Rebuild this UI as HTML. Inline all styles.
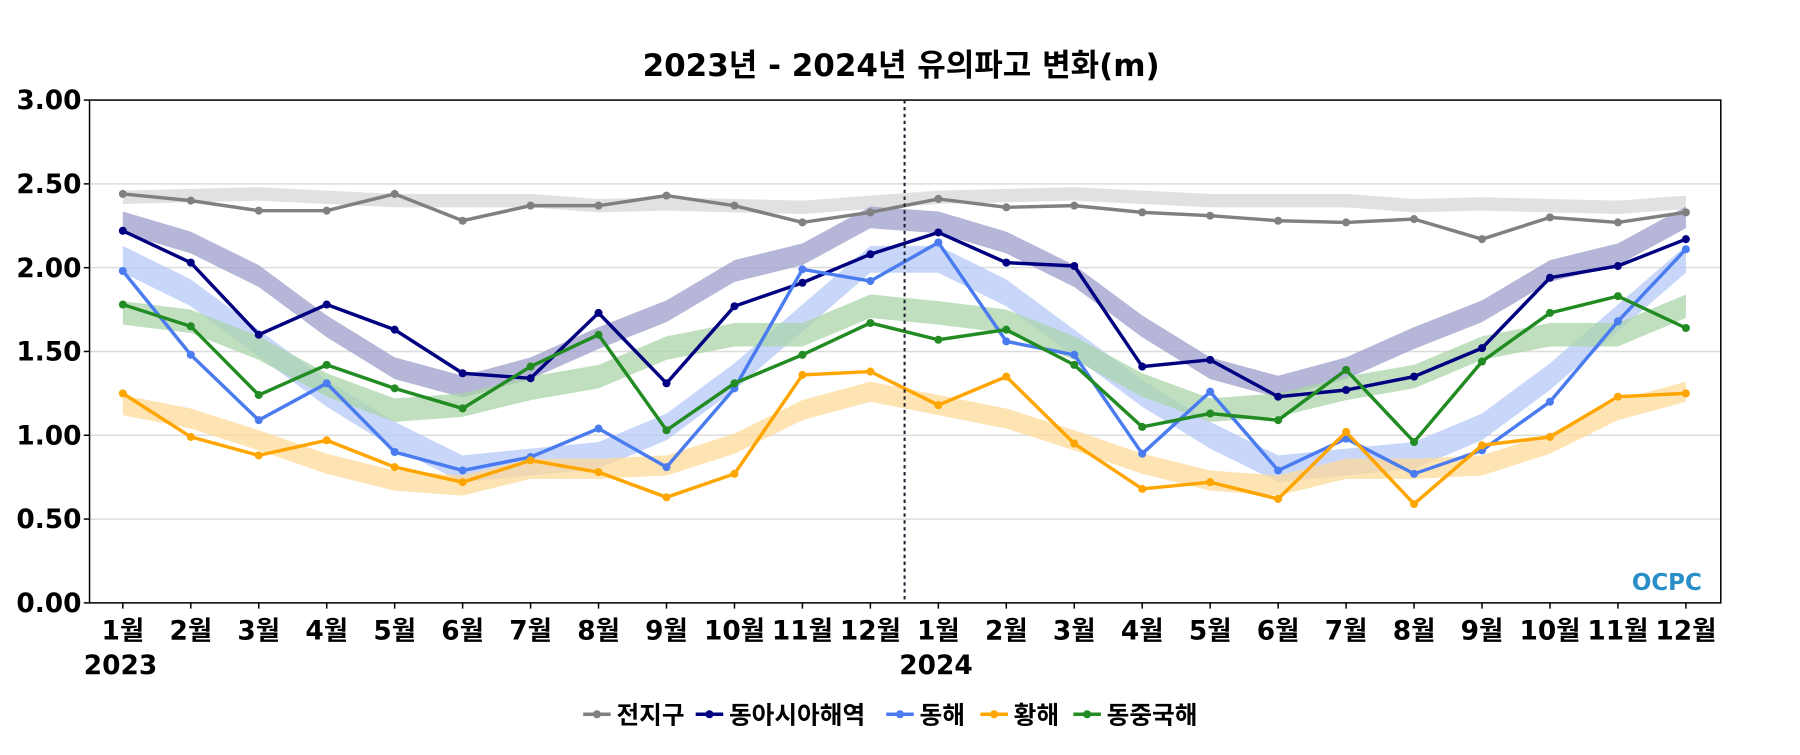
<!DOCTYPE html>
<html><head><meta charset="utf-8"><style>
body{margin:0;background:#fff;}
svg text{font-family:"DejaVu Sans","Noto Sans CJK KR",sans-serif;}
</style></head><body>
<svg id="chart" width="1800" height="750" viewBox="0 0 1568 653" xmlns="http://www.w3.org/2000/svg">
<text x="785" y="66" text-anchor="middle" font-size="27" font-weight="bold">2023년 - 2024년 유의파고 변화(m)</text>
<g id="grid"></g><g id="bands"></g><g id="lines"></g><g id="axes"></g><g id="legend"></g>
<text x="1452" y="514" text-anchor="middle" font-size="20" font-weight="bold" fill="#2a8fc8">OCPC</text>
</svg>
<script>
const months=["1월","2월","3월","4월","5월","6월","7월","8월","9월","10월","11월","12월","1월","2월","3월","4월","5월","6월","7월","8월","9월","10월","11월","12월"];
const yTicks=[0,0.5,1,1.5,2,2.5,3];
const seriesNames=["전지구","동아시아해역","동해","황해","동중국해"];
const seriesColors=["#808080","#000080","#4a7cf0","#ffa500","#228b22"];
const bandColors=["#d9d9d9","#9d9dcb","#b5c9f7","#fdd99a","#a9d4a9"];
const global=[2.44,2.40,2.34,2.34,2.44,2.28,2.37,2.37,2.43,2.37,2.27,2.33,2.41,2.36,2.37,2.33,2.31,2.28,2.27,2.29,2.17,2.30,2.27,2.33];
const eastAsia=[2.22,2.03,1.60,1.78,1.63,1.37,1.34,1.73,1.31,1.77,1.91,2.08,2.21,2.03,2.01,1.41,1.45,1.23,1.27,1.35,1.52,1.94,2.01,2.17];
const eastSea=[1.98,1.48,1.09,1.31,0.90,0.79,0.87,1.04,0.81,1.28,1.99,1.92,2.15,1.56,1.48,0.89,1.26,0.79,0.98,0.77,0.91,1.20,1.68,2.11];
const yellowSea=[1.25,0.99,0.88,0.97,0.81,0.72,0.85,0.78,0.63,0.77,1.36,1.38,1.18,1.35,0.95,0.68,0.72,0.62,1.02,0.59,0.94,0.99,1.23,1.25];
const ecSea=[1.78,1.65,1.24,1.42,1.28,1.16,1.41,1.60,1.03,1.31,1.48,1.67,1.57,1.63,1.42,1.05,1.13,1.09,1.39,0.96,1.44,1.73,1.83,1.64];
const climGlobal=[2.42,2.43,2.44,2.42,2.40,2.40,2.40,2.37,2.38,2.37,2.36,2.39];
const climEastAsia=[2.27,2.15,1.95,1.65,1.40,1.29,1.40,1.58,1.74,1.98,2.08,2.30];
const climEastSea=[2.05,1.85,1.55,1.25,1.00,0.80,0.84,0.88,1.05,1.35,1.70,2.05];
const climYellowSea=[1.18,1.10,0.97,0.83,0.73,0.70,0.80,0.80,0.82,0.95,1.15,1.26];
const climEcSea=[1.73,1.68,1.52,1.30,1.15,1.18,1.28,1.35,1.52,1.60,1.60,1.77];
const bandHalf=[0.04,0.065,0.08,0.06,0.07];

const NS="http://www.w3.org/2000/svg";
const L=78,R=1499,T=87,B=525,X0=107,DX=59.2;
const xS=i=>X0+i*DX, yS=v=>B-(v/3)*(B-T);
function mk(tag,attrs,parent){const e=document.createElementNS(NS,tag);for(const k in attrs)e.setAttribute(k,attrs[k]);parent.appendChild(e);return e;}
const grid=document.getElementById('grid'),axes=document.getElementById('axes'),bands=document.getElementById('bands'),lines=document.getElementById('lines'),legend=document.getElementById('legend');
yTicks.forEach(t=>{
 const g=mk('line',{x1:L,x2:R,y1:yS(t),y2:yS(t),stroke:'#dcdcdc','stroke-width':1.3},grid);
 
 
 const tk=mk('line',{x1:L-5,x2:L,y1:yS(t),y2:yS(t),stroke:'#000','stroke-width':1.3},axes);
 
 
 const tx=mk('text',{x:L-7,y:yS(t)+8,'text-anchor':'end','font-size':23,'font-weight':'bold'},axes);
 tx.textContent=t.toFixed(2);
 
 
});
const frame=mk('rect',{x:L,y:T,width:R-L,height:B-T,fill:'none',stroke:'#000','stroke-width':1.3},axes);


const sep=mk('line',{x1:788,x2:788,y1:T,y2:B,stroke:'#223','stroke-width':1.8,'stroke-dasharray':'3,3'},axes);


months.forEach((m,i)=>{
 const tk=mk('line',{x1:xS(i),x2:xS(i),y1:B,y2:B+5,stroke:'#000','stroke-width':1.3},axes);
 
 
 const tx=mk('text',{x:xS(i),y:557,'text-anchor':'middle','font-size':23,'font-weight':'bold'},axes);
 tx.textContent=m;
 
 
});
[["2023",0],["2024",12]].forEach(([y,i])=>{
 const tx=mk('text',{x:xS(i)-34,y:587,'font-size':23,'font-weight':'bold'},axes);
 tx.textContent=y;
 
 
});
const data=[global,eastAsia,eastSea,yellowSea,ecSea];
const clim=[climGlobal,climEastAsia,climEastSea,climYellowSea,climEcSea];
clim.forEach((c,s)=>{
 const full=c.concat(c);
 const top=full.map((v,i)=>xS(i)+','+yS(v+bandHalf[s]));
 const bot=full.map((v,i)=>xS(i)+','+yS(v-bandHalf[s])).reverse();
 const p=mk('polygon',{points:top.concat(bot).join(' '),fill:bandColors[s],'fill-opacity':s==0?0.8:0.75},bands);
 
 
});
data.forEach((d,s)=>{
 const pl=mk('polyline',{points:d.map((v,i)=>xS(i)+','+yS(v)).join(' '),fill:'none',stroke:seriesColors[s],'stroke-width':3},lines);
 
 
 d.forEach((v,i)=>{
  const c=mk('circle',{cx:xS(i),cy:yS(v),r:3.5,fill:seriesColors[s]},lines);
  
  
 });
});
const legX=[508,606,772,854,935];
seriesNames.forEach((n,s)=>{
 const g=mk('g',{},legend);
 
 
 mk('line',{x1:legX[s],x2:legX[s]+24,y1:622,y2:622,stroke:seriesColors[s],'stroke-width':3},g);
 mk('circle',{cx:legX[s]+12,cy:622,r:3.5,fill:seriesColors[s]},g);
 const t=mk('text',{x:legX[s]+29,y:630,'font-size':21.5,'font-weight':'bold'},g);
 t.textContent=n;
});
</script>
</body></html>
